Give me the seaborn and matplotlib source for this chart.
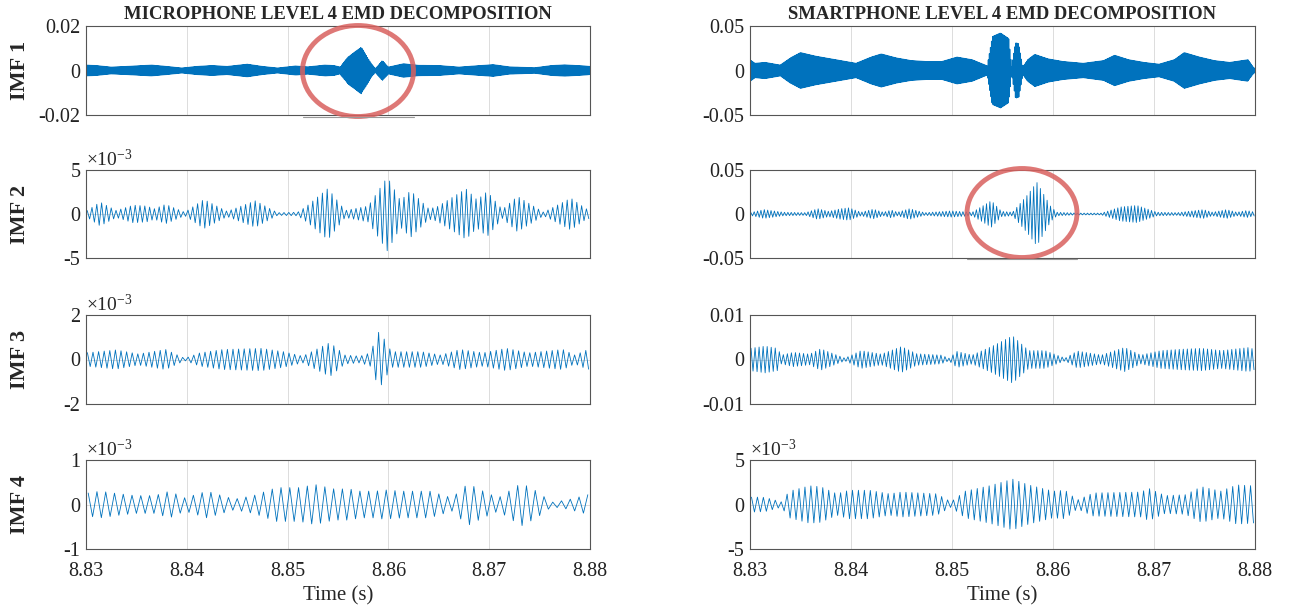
import numpy as np
import pandas as pd
import seaborn as sns
import matplotlib.pyplot as plt
from matplotlib.patches import Ellipse
from matplotlib.lines import Line2D

# ---- data ----
T0 = 8.83           # start of the window (s)
T_SPAN_MS = 50.0    # window length (ms)

# envelope knots: time offset from 8.83 s in ms, amplitude in units of 1e-3
mic_imf1_t = [0, 1, 2.5, 4, 6.5, 8, 9.5, 11, 12.5, 14, 16, 17.5, 19, 20.8, 22, 23.7, 24.6, 25.2, 26, 27.3,
              28.3, 28.7, 29.4, 30, 31.5, 33, 35, 37, 38.5, 40.4, 42, 44.5, 46.2, 47.5, 49.5, 50]
mic_imf1_a = [2.4, 2.2, 1.5, 1.8, 2.4, 1.8, 1.1, 1.8, 2.2, 1.8, 2.8, 1.8, 1.1, 2.0, 1.6, 2.4, 2.2, 1.5, 6.0, 10.4,
              3.0, 0.8, 4.4, 1.5, 3.0, 2.3, 2.2, 1.5, 2.0, 2.6, 1.6, 1.2, 2.2, 2.5, 2.0, 1.8]

mic_imf2_t = [0, 1.4, 3, 4.7, 6, 6.8, 7.9, 9.8, 11.7, 14, 16.8, 19, 21, 21.9, 24, 25.7, 28, 29.9, 31.2, 32.2,
              34, 34.8, 37.7, 38.8, 39.8, 41.3, 42.8, 45.4, 48.1, 49.6, 50]
mic_imf2_a = [0.3, 1.35, 0.4, 1.0, 0.9, 0.6, 1.1, 0.2, 1.65, 0.3, 1.5, 0.15, 0.2, 0.9, 2.9, 0.4, 0.9, 4.2, 1.5, 2.65,
              0.6, 0.8, 2.85, 1.6, 2.55, 0.5, 2.0, 0.2, 1.8, 0.6, 0.5]

mic_imf3_t = [0, 3, 5.2, 7.9, 9.8, 11.3, 13.6, 17.4, 19.6, 21.5, 24.2, 25.7, 27.2, 28.2, 29.1, 30.3, 33.3,
              35.2, 37.1, 39.4, 41.7, 43.9, 47.3, 48.5, 49.8, 50]
mic_imf3_a = [0.3, 0.43, 0.25, 0.45, 0.05, 0.3, 0.45, 0.5, 0.35, 0.15, 0.76, 0.2, 0.15, 0.3, 1.3, 0.35, 0.35,
              0.2, 0.45, 0.3, 0.5, 0.3, 0.45, 0.2, 0.45, 0.4]

mic_imf4_t = [0, 1.4, 3, 4.9, 6.8, 8.3, 9.8, 12, 14.7, 16.6, 18.9, 21.2, 22.7, 24.6, 26.1, 27.2, 28.8, 29.5,
              31.4, 34.1, 36.3, 37.9, 39.4, 40.9, 43.2, 44.7, 46.2, 47.7, 49.8, 50]
mic_imf4_a = [0.25, 0.3, 0.25, 0.2, 0.2, 0.3, 0.15, 0.3, 0.12, 0.2, 0.38, 0.38, 0.45, 0.35, 0.35, 0.3, 0.3, 0.33,
              0.3, 0.3, 0.15, 0.47, 0.3, 0.15, 0.48, 0.3, 0.05, 0.1, 0.22, 0.2]

sp_imf1_t = [0, 0.5, 1.5, 3, 4, 5, 6.5, 8, 9.5, 10.5, 12, 13, 14.5, 16, 17.5, 19, 20.5, 22, 23.5, 24.0,
             24.8, 25.6, 25.9, 26.3, 26.6, 27, 27.5, 28.2, 29.5, 31, 33, 35, 36.1, 37.5, 39, 40.5, 42, 43,
             44.5, 46, 47.5, 49.3, 49.8, 50]
sp_imf1_a = [12, 8, 9, 6, 14, 20, 16, 13, 10, 8, 15, 18.5, 14, 11, 10, 10, 15, 12, 5, 38,
             42, 36, 3, 31, 30, 4, 12, 18, 13, 10, 8, 11, 17, 12, 9, 7, 12, 20,
             15, 11, 9, 12, 4, 2]

sp_imf2_t = [0, 1.4, 3.3, 5.5, 6.7, 7.8, 9.0, 9.8, 11, 12.2, 13.2, 14, 14.6, 15.8, 17.3, 19.9, 22, 23.9, 24.9,
             26, 27.5, 28.4, 29.8, 30.4, 32.4, 34.8, 36.7, 38.3, 40.3, 42.3, 44.9, 45.8, 47.2, 48.2, 49.2, 50]
sp_imf2_a = [1.5, 5, 2, 1.5, 6, 3, 6, 7, 2, 5.5, 2, 4.5, 2, 6, 1.5, 3.5, 2, 15, 3,
             2, 22, 36, 8, 2, 1, 1, 8, 9.7, 2, 1.5, 5, 2, 5, 2, 4, 2]

sp_imf3_t = [0, 1.5, 2.7, 3.1, 4.3, 5.9, 7, 8.6, 9.4, 11, 13, 15, 16.5, 18.9, 19.7, 20.5, 22, 24, 26, 27.6,
             29.2, 31.2, 32.4, 34.8, 37.1, 38.7, 40.7, 42.7, 44.7, 46.7, 49.4, 50]
sp_imf3_a = [2.5, 3.0, 2.5, 1.0, 1.6, 1.2, 2.4, 1.0, 0.3, 2.0, 1.2, 2.9, 1.3, 1.0, 0.3, 1.8, 1.0, 3.0, 5.3, 2.0,
             2.0, 0.3, 1.9, 1.0, 2.7, 1.0, 2.0, 2.3, 2.5, 2.0, 2.7, 2.2]

sp_imf4_t = [0, 0.3, 1.5, 3.1, 3.9, 5.9, 7, 8.6, 9.8, 11.8, 13.8, 15, 18.5, 19.9, 21.3, 23.7, 26, 27.6, 30,
             31.2, 32.4, 34, 38.7, 39.5, 41.1, 43.1, 44.7, 46.6, 48.2, 49.8, 50]
sp_imf4_a = [0.8, 0.85, 0.8, 0.3, 1.5, 2.1, 2.0, 1.2, 1.6, 1.6, 1.2, 1.4, 1.2, 0.3, 1.5, 2.1, 2.85, 2.2, 1.5,
             1.6, 0.5, 1.3, 1.4, 1.8, 1.0, 1.1, 2.0, 1.5, 2.2, 2.1, 2.0]

# oscillation rate counted per panel (cycles per second)
mic_cycles = [9000, 2100, 1800, 1150]
sp_cycles = [9500, 3000, 2500, 1700]

mic_limits = [0.02, 5e-3, 2e-3, 1e-3]
sp_limits = [0.05, 0.05, 0.01, 5e-3]
mic_ticklabels = [['-0.02', '0', '0.02'], ['-5', '0', '5'], ['-2', '0', '2'], ['-1', '0', '1']]
sp_ticklabels = [['-0.05', '0', '0.05'], ['-0.05', '0', '0.05'], ['-0.01', '0', '0.01'], ['-5', '0', '5']]
mic_exponent = [False, True, True, True]
sp_exponent = [False, False, False, True]

imf_labels = ['IMF 1', 'IMF 2', 'IMF 3', 'IMF 4']
col_titles = ['MICROPHONE LEVEL 4 EMD DECOMPOSITION', 'SMARTPHONE LEVEL 4 EMD DECOMPOSITION']
x_ticks = [8.83, 8.84, 8.85, 8.86, 8.87, 8.88]
x_ticklabels = ['8.83', '8.84', '8.85', '8.86', '8.87', '8.88']

BLUE = '#0072BD'


def build_trace(knot_t, knot_a, cycles):
    half = 1000.0 / (2 * cycles)  # ms between peaks
    tp = np.arange(half / 2, T_SPAN_MS, half)
    env = np.interp(tp, knot_t, knot_a) * 1e-3
    sign = np.where(np.arange(len(tp)) % 2 == 0, 1.0, -1.0)
    return pd.DataFrame({'time': T0 + tp / 1000.0, 'value': env * sign})


sns.set_style('white')
plt.rcParams['font.family'] = ['Liberation Serif', 'DejaVu Serif']
plt.rcParams['mathtext.fontset'] = 'custom'
plt.rcParams['mathtext.rm'] = 'Liberation Serif'

W, H = 1289, 608
fig = plt.figure(figsize=(W / 100, H / 100), dpi=100)

rows_px = [(26, 115), (170, 258), (315, 404), (460, 549)]
cols_px = [(86, 590), (750, 1255)]

columns = [
    ([(mic_imf1_t, mic_imf1_a), (mic_imf2_t, mic_imf2_a), (mic_imf3_t, mic_imf3_a), (mic_imf4_t, mic_imf4_a)],
     mic_cycles, mic_limits, mic_ticklabels, mic_exponent),
    ([(sp_imf1_t, sp_imf1_a), (sp_imf2_t, sp_imf2_a), (sp_imf3_t, sp_imf3_a), (sp_imf4_t, sp_imf4_a)],
     sp_cycles, sp_limits, sp_ticklabels, sp_exponent),
]

for c, (series, cycles, limits, ticklabels, exponent) in enumerate(columns):
    x0, x1 = cols_px[c]
    for r in range(4):
        y0, y1 = rows_px[r]
        ax = fig.add_axes([x0 / W, 1 - y1 / H, (x1 - x0) / W, (y1 - y0) / H])
        df = build_trace(series[r][0], series[r][1], cycles[r])
        lw = 0.9 if r == 0 else 0.6
        sns.lineplot(data=df, x='time', y='value', ax=ax, color=BLUE, linewidth=lw,
                     estimator=None, sort=False)
        lim = limits[r]
        ax.set_xlim(8.83, 8.88)
        ax.set_ylim(-lim, lim)
        ax.set_xticks(x_ticks)
        ax.set_yticks([-lim, 0, lim])
        ax.set_yticklabels(ticklabels[r])
        if r == 3:
            ax.set_xticklabels(x_ticklabels)
            ax.set_xlabel('Time (s)', fontsize=15, labelpad=4)
        else:
            ax.set_xticklabels([])
            ax.set_xlabel('')
        if c == 0:
            ax.set_ylabel(imf_labels[r], fontsize=16, fontweight='bold')
            ax.yaxis.set_label_coords(-0.112, 0.5)
        else:
            ax.set_ylabel('')
        if r == 0:
            ax.set_title(col_titles[c], fontsize=13.4, fontweight='bold', pad=5)
        if exponent[r]:
            ax.text(0.0, 1.0, r'$\mathregular{\times10^{-3}}$', transform=ax.transAxes,
                    ha='left', va='bottom', fontsize=14)
        ax.grid(True, color='#dcdcdc', linewidth=0.7)
        ax.set_axisbelow(True)
        ax.tick_params(direction='in', length=3, width=0.6, colors='#333333',
                       labelsize=14.5, labelcolor='#222222', top=False, right=False, pad=4)
        ax.tick_params(axis='x', pad=9)
        for sp in ax.spines.values():
            sp.set_color('#555555')
            sp.set_linewidth(0.8)

# red circle highlights
for cx, cy, w, h in [(358, 71, 111, 91), (1022, 213, 110, 89)]:
    fig.add_artist(Ellipse((cx / W, 1 - cy / H), w / W, h / H, transform=fig.transFigure,
                           fill=False, edgecolor='#d9605e', linewidth=3.5, alpha=0.85))
    fig.add_artist(Line2D([(cx - w / 2) / W, (cx + w / 2) / W], [1 - (cy + h / 2 + 1) / H] * 2,
                          transform=fig.transFigure, color='#9a9a9a', linewidth=0.8))

fig.savefig('out.png', dpi=100)
plt.close(fig)
